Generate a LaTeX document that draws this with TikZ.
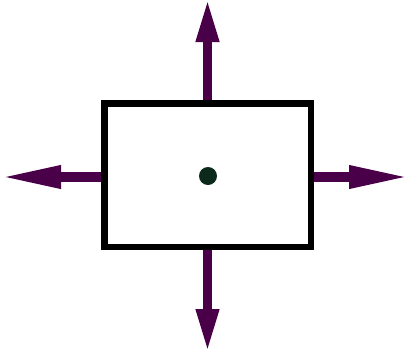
\documentclass[tikz,border=0pt]{standalone}
\usetikzlibrary{arrows.meta}
\definecolor{arrowpurple}{HTML}{4A0048}
\definecolor{dotgreen}{HTML}{0B2A1C}
\begin{document}
\begin{tikzpicture}[x=1pt,y=-1pt,
  boxstyle/.style={draw=black,line width=6.5pt,minimum width=206.5pt,minimum height=143.5pt,inner sep=0pt,fill=white},
  vertarrow/.style={draw=arrowpurple,line width=9.5pt,-{Triangle[length=44pt,width=21pt]}},
  horizarrow/.style={draw=arrowpurple,line width=9.5pt,-{Triangle[length=61pt,width=21pt]}}]
\useasboundingbox (0,0) rectangle (405,349);
\node[boxstyle] (box) at (207.5,175) {};
\node[circle,fill=dotgreen,minimum size=18pt,inner sep=0pt] (dot) at (208,176) {};
\coordinate (topend) at (207.5,-2);
\coordinate (bottomend) at (207.5,353);
\coordinate (leftend) at (0,177);
\coordinate (rightend) at (410,177);
\draw[vertarrow] (box.north -| topend) -- (topend);
\draw[vertarrow] (box.south -| bottomend) -- (bottomend);
\draw[horizarrow] (box.west |- leftend) -- (leftend);
\draw[horizarrow] (box.east |- rightend) -- (rightend);
\end{tikzpicture}
\end{document}
